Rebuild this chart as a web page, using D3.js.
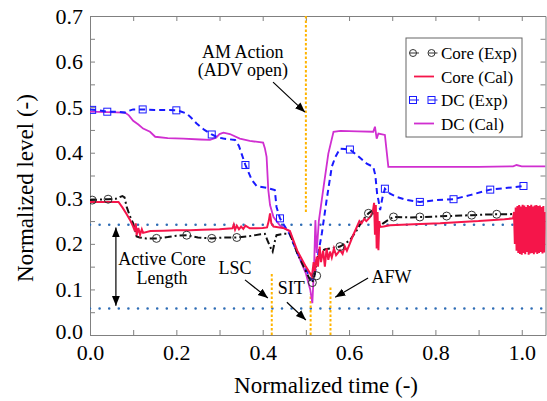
<!DOCTYPE html>
<html>
<head>
<meta charset="utf-8">
<script src="https://cdn.jsdelivr.net/npm/d3@7"></script>
<style>
  body { margin: 0; background: #fff; }
  svg text { font-family: "Liberation Serif", "DejaVu Serif", serif; }
</style>
</head>
<body>
<script>
// series: [normalized time, normalized level]
const coreExp = [[0,0.296],[0.02,0.297],[0.042,0.298],[0.06,0.299],[0.075,0.305],[0.08,0.302],[0.085,0.281],[0.092,0.262],[0.1,0.245],[0.105,0.228],[0.108,0.216],[0.115,0.214],[0.13,0.212],[0.154,0.212],[0.18,0.215],[0.2,0.218],[0.224,0.219],[0.25,0.214],[0.282,0.212],[0.31,0.214],[0.34,0.214],[0.37,0.217],[0.395,0.221],[0.405,0.222],[0.41,0.21],[0.417,0.194],[0.423,0.183],[0.428,0.205],[0.432,0.219],[0.45,0.222],[0.463,0.222],[0.48,0.18],[0.5,0.14],[0.51,0.12],[0.515,0.115],[0.52,0.13],[0.525,0.165],[0.533,0.183],[0.545,0.188],[0.556,0.19],[0.579,0.194],[0.59,0.2],[0.602,0.208],[0.618,0.23],[0.63,0.25],[0.645,0.267],[0.656,0.274],[0.662,0.255],[0.668,0.237],[0.679,0.245],[0.69,0.252],[0.703,0.259],[0.74,0.258],[0.772,0.259],[0.8,0.26],[0.826,0.261],[0.86,0.262],[0.884,0.263],[0.91,0.264],[0.942,0.265],[0.97,0.265],[1.0,0.266]];
const coreExpMarks = [[0.005,0.296],[0.042,0.298],[0.154,0.212],[0.224,0.219],[0.282,0.212],[0.34,0.214],[0.515,0.115],[0.525,0.13],[0.579,0.194],[0.645,0.267],[0.703,0.259],[0.764,0.259],[0.826,0.261],[0.884,0.263],[0.942,0.265]];

const coreCal = [[0,0.292],[0.066,0.292],[0.075,0.28],[0.085,0.265],[0.093,0.252],[0.1,0.238],[0.104,0.228],[0.106,0.245],[0.108,0.219],[0.112,0.235],[0.116,0.22],[0.12,0.232],[0.123,0.224],[0.14,0.228],[0.17,0.229],[0.2,0.23],[0.232,0.23],[0.26,0.231],[0.3,0.232],[0.33,0.234],[0.333,0.242],[0.336,0.231],[0.34,0.24],[0.345,0.232],[0.35,0.238],[0.355,0.233],[0.36,0.24],[0.37,0.234],[0.386,0.234],[0.4,0.235],[0.41,0.236],[0.414,0.25],[0.417,0.267],[0.42,0.245],[0.425,0.238],[0.432,0.237],[0.45,0.234],[0.463,0.228],[0.48,0.185],[0.5,0.15],[0.51,0.135],[0.514,0.128],[0.518,0.16],[0.521,0.14],[0.525,0.172],[0.528,0.15],[0.532,0.194],[0.535,0.16],[0.54,0.185],[0.544,0.15],[0.548,0.19],[0.552,0.165],[0.556,0.183],[0.56,0.17],[0.565,0.19],[0.57,0.175],[0.579,0.186],[0.585,0.178],[0.59,0.195],[0.595,0.185],[0.602,0.201],[0.61,0.22],[0.618,0.237],[0.624,0.25],[0.629,0.245],[0.635,0.255],[0.64,0.25],[0.649,0.259],[0.655,0.27],[0.658,0.29],[0.66,0.22],[0.662,0.285],[0.664,0.19],[0.666,0.27],[0.668,0.186],[0.67,0.25],[0.672,0.237],[0.68,0.238],[0.695,0.241],[0.75,0.243],[0.811,0.245],[0.86,0.248],[0.9,0.25],[0.927,0.252],[0.96,0.254],[0.98,0.256],
  [0.982,0.27],[0.984,0.2],[0.986,0.28],[0.988,0.185],[0.99,0.283],[0.992,0.18],[0.994,0.285],[0.996,0.178],[0.998,0.282],[1.0,0.176],[1.002,0.286],[1.004,0.18],[1.006,0.284],[1.008,0.177],[1.01,0.281],[1.012,0.182],[1.014,0.285],[1.016,0.176],[1.018,0.283],[1.02,0.179],[1.022,0.286],[1.024,0.18],[1.026,0.282],[1.028,0.177],[1.03,0.284],[1.032,0.181],[1.034,0.285],[1.036,0.178],[1.038,0.283],[1.04,0.18],[1.042,0.284],[1.044,0.182],[1.046,0.281],[1.048,0.179],[1.05,0.283],[1.052,0.181],[1.055,0.27]];

const dcExp = [[0,0.495],[0.02,0.493],[0.04,0.49],[0.06,0.49],[0.081,0.488],[0.09,0.492],[0.1,0.495],[0.122,0.495],[0.15,0.494],[0.175,0.494],[0.2,0.493],[0.212,0.49],[0.224,0.486],[0.235,0.476],[0.247,0.464],[0.265,0.45],[0.282,0.44],[0.295,0.434],[0.309,0.431],[0.336,0.428],[0.345,0.415],[0.351,0.398],[0.36,0.373],[0.368,0.355],[0.375,0.34],[0.386,0.327],[0.409,0.323],[0.428,0.318],[0.432,0.281],[0.44,0.256],[0.45,0.24],[0.463,0.22],[0.48,0.18],[0.5,0.145],[0.51,0.125],[0.515,0.12],[0.52,0.13],[0.527,0.17],[0.537,0.223],[0.548,0.296],[0.56,0.369],[0.568,0.39],[0.579,0.409],[0.59,0.408],[0.602,0.407],[0.618,0.395],[0.63,0.385],[0.641,0.376],[0.656,0.369],[0.661,0.35],[0.665,0.31],[0.668,0.296],[0.672,0.274],[0.677,0.3],[0.683,0.321],[0.695,0.31],[0.71,0.303],[0.735,0.296],[0.764,0.292],[0.803,0.296],[0.842,0.298],[0.88,0.307],[0.927,0.319],[0.96,0.322],[1.004,0.327]];
const dcExpMarks = [[0.005,0.494],[0.04,0.49],[0.122,0.495],[0.2,0.493],[0.282,0.44],[0.36,0.373],[0.44,0.256],[0.602,0.407],[0.683,0.321],[0.764,0.292],[0.842,0.298],[0.927,0.319],[1.004,0.327]];

const dcCal = [[0,0.49],[0.04,0.489],[0.081,0.488],[0.09,0.482],[0.1,0.47],[0.112,0.462],[0.123,0.453],[0.139,0.446],[0.151,0.435],[0.18,0.432],[0.216,0.431],[0.255,0.429],[0.278,0.428],[0.292,0.433],[0.3,0.441],[0.309,0.444],[0.324,0.441],[0.347,0.431],[0.37,0.426],[0.401,0.422],[0.405,0.41],[0.409,0.391],[0.413,0.318],[0.417,0.285],[0.425,0.259],[0.44,0.24],[0.463,0.227],[0.48,0.18],[0.5,0.135],[0.51,0.1],[0.515,0.07],[0.519,0.15],[0.522,0.252],[0.525,0.18],[0.53,0.25],[0.541,0.325],[0.552,0.398],[0.564,0.446],[0.58,0.448],[0.62,0.447],[0.656,0.446],[0.66,0.457],[0.664,0.431],[0.668,0.442],[0.683,0.439],[0.691,0.369],[0.75,0.369],[0.9,0.369],[0.98,0.37],[0.988,0.373],[1.0,0.37],[1.055,0.37]];

// reference levels and event times
const coreTop = 0.242, coreBottom = 0.058;
const events = [
  {name: "AM", t: 0.5, from: 0.27, to: 0.7},
  {name: "LSC", t: 0.421, from: 0, to: 0.134},
  {name: "SIT", t: 0.511, from: 0, to: 0.09},
  {name: "AFW", t: 0.557, from: 0, to: 0.105}
];

const xTicks = [0,0.1,0.2,0.3,0.4,0.5,0.6,0.7,0.8,0.9,1.0];
const xLabels = ["0.0","","0.2","","0.4","","0.6","","0.8","","1.0"];
const yTicks = [0,0.05,0.1,0.15,0.2,0.25,0.3,0.35,0.4,0.45,0.5,0.55,0.6,0.65,0.7];
const yLabels = ["0.0","","0.1","","0.2","","0.3","","0.4","","0.5","","0.6","","0.7"];

const W = 547, H = 401;
const x = d3.scaleLinear([0, 1.055], [90, 545.5]);
const y = d3.scaleLinear([0, 0.7], [335, 16]);

const svg = d3.select("body").append("svg").attr("width", W).attr("height", H);

const defs = svg.append("defs");
defs.append("clipPath").attr("id", "plot")
  .append("rect").attr("x", 90).attr("y", 16).attr("width", 455.5).attr("height", 319);
defs.append("marker").attr("id", "head")
  .attr("viewBox", "0 0 10 10").attr("refX", 10).attr("refY", 5)
  .attr("markerWidth", 10).attr("markerHeight", 10).attr("markerUnits", "userSpaceOnUse")
  .attr("orient", "auto-start-reverse")
  .append("path").attr("d", "M0,1 L10,5 L0,9 Z").attr("fill", "#000");

// axes, ticks pointing inward on all four sides
const axisColor = "#808080";
function styleAxis(g) {
  g.attr("font-size", 22);
  g.select(".domain").attr("stroke", axisColor);
  g.selectAll(".tick line").attr("stroke", axisColor);
  g.selectAll(".tick text").attr("fill", "#000");
}
svg.append("g").attr("transform", "translate(0,335)")
  .call(d3.axisBottom(x).tickValues(xTicks).tickSizeInner(-5).tickSizeOuter(0).tickPadding(9)
    .tickFormat((d, i) => xLabels[i]))
  .call(styleAxis);
svg.append("g").attr("transform", "translate(0,16)")
  .call(d3.axisTop(x).tickValues(xTicks).tickSizeInner(-5).tickSizeOuter(0).tickFormat(""))
  .call(styleAxis);
svg.append("g").attr("transform", "translate(90,0)")
  .call(d3.axisLeft(y).tickValues(yTicks).tickSizeInner(-5).tickSizeOuter(0).tickPadding(7)
    .tickFormat((d, i) => yLabels[i]))
  .call(styleAxis);
svg.append("g").attr("transform", "translate(545.5,0)")
  .call(d3.axisRight(y).tickValues(yTicks).tickSizeInner(-5).tickSizeOuter(0).tickFormat(""))
  .call(styleAxis);
// nudge the bottom "0.0" on the y axis up a little so it clears the x label
svg.selectAll("g.tick text").filter(function () { return this.textContent === "0.0" && this.getAttribute("x"); })
  .attr("dy", "0.18em");

svg.append("text").attr("x", 326).attr("y", 393).attr("text-anchor", "middle")
  .attr("font-size", 23).text("Normalized time (-)");
svg.append("text").attr("transform", "translate(33,188) rotate(-90)").attr("text-anchor", "middle")
  .attr("font-size", 23).text("Normalized level (-)");

const plot = svg.append("g").attr("clip-path", "url(#plot)");

// core length reference lines
const dotBlue = "#2f6db5";
[coreTop, coreBottom].forEach(v => {
  plot.append("line").attr("x1", x(0)).attr("x2", x(1.055)).attr("y1", y(v)).attr("y2", y(v))
    .attr("stroke", dotBlue).attr("stroke-width", 2.6).attr("stroke-linecap", "round")
    .attr("stroke-dasharray", "0 9.6");
});

// event lines
plot.selectAll(".event").data(events).enter().append("line")
  .attr("x1", d => x(d.t)).attr("x2", d => x(d.t))
  .attr("y1", d => y(d.from)).attr("y2", d => y(d.to))
  .attr("stroke", "#ffb400").attr("stroke-width", 2).attr("stroke-dasharray", "2.5 2");

const line = d3.line().x(d => x(d[0])).y(d => y(d[1]));

const red = "#f5154a", magenta = "#d02fd0", blue = "#1a1aff";

plot.append("path").datum(dcCal).attr("d", line)
  .attr("fill", "none").attr("stroke", magenta).attr("stroke-width", 1.8);
plot.append("path").datum(dcExp).attr("d", line)
  .attr("fill", "none").attr("stroke", blue).attr("stroke-width", 2).attr("stroke-dasharray", "6 4");
plot.append("path").datum(coreExp).attr("d", line)
  .attr("fill", "none").attr("stroke", "#111").attr("stroke-width", 2).attr("stroke-dasharray", "7 3 2 3");
plot.append("path").datum(coreCal).attr("d", line)
  .attr("fill", "none").attr("stroke", red).attr("stroke-width", 2);

plot.selectAll(".sq").data(dcExpMarks).enter().append("rect")
  .attr("x", d => x(d[0]) - 3.5).attr("y", d => y(d[1]) - 3.5).attr("width", 7).attr("height", 7)
  .attr("fill", "none").attr("stroke", blue).attr("stroke-width", 1);
plot.selectAll(".ci").data(coreExpMarks).enter().append("circle")
  .attr("cx", d => x(d[0])).attr("cy", d => y(d[1])).attr("r", 4)
  .attr("fill", "none").attr("stroke", "#333").attr("stroke-width", 1);

// annotations
function arrow(t1, v1, t2, v2, both) {
  svg.append("line").attr("x1", x(t1)).attr("y1", y(v1)).attr("x2", x(t2)).attr("y2", y(v2))
    .attr("stroke", "#000").attr("stroke-width", 1.2)
    .attr("marker-end", "url(#head)").attr("marker-start", both ? "url(#head)" : null);
}
function label(t, v, txt, anchor) {
  svg.append("text").attr("x", x(t)).attr("y", y(v)).attr("text-anchor", anchor || "middle")
    .attr("font-size", 18).text(txt);
}
label(0.354, 0.608, "AM Action");
label(0.354, 0.568, "(ADV open)");
arrow(0.424, 0.555, 0.498, 0.489);
label(0.167, 0.153, "Active Core");
label(0.167, 0.112, "Length");
arrow(0.06, coreTop - 0.006, 0.06, coreBottom + 0.006, true);
label(0.336, 0.134, "LSC");
arrow(0.359, 0.121, 0.412, 0.081);
label(0.466, 0.09, "SIT");
arrow(0.456, 0.072, 0.5, 0.033);
label(0.652, 0.114, "AFW", "start");
arrow(0.644, 0.125, 0.568, 0.083);

// legend
const legend = svg.append("g").attr("transform", "translate(406,38)");
legend.append("rect").attr("width", 116).attr("height", 99)
  .attr("fill", "#fff").attr("stroke", "#666").attr("stroke-width", 1);
const items = [
  {name: "Core (Exp)", color: "#333", mark: "circle"},
  {name: "Core (Cal)", color: red, mark: null},
  {name: "DC (Exp)", color: blue, mark: "square"},
  {name: "DC (Cal)", color: magenta, mark: null}
];
items.forEach((it, i) => {
  const g = legend.append("g").attr("transform", `translate(0,${15 + i * 23.5})`);
  if (it.mark) {
    [7, 25.5].forEach(cx => {
      g.append("line").attr("x1", cx - 3).attr("x2", cx + 6).attr("y1", 0).attr("y2", 0)
        .attr("stroke", it.color).attr("stroke-width", 1);
      if (it.mark === "circle")
        g.append("circle").attr("cx", cx).attr("cy", 0).attr("r", 3.5)
          .attr("fill", "none").attr("stroke", it.color).attr("stroke-width", 1);
      else
        g.append("rect").attr("x", cx - 3.5).attr("y", -3.5).attr("width", 7).attr("height", 7)
          .attr("fill", "none").attr("stroke", it.color).attr("stroke-width", 1);
    });
  } else {
    g.append("line").attr("x1", 8).attr("x2", 28).attr("y1", 0).attr("y2", 0)
      .attr("stroke", it.color).attr("stroke-width", 1.8);
  }
  g.append("text").attr("x", 35).attr("y", 6).attr("font-size", 17).text(it.name);
});
</script>
</body>
</html>
